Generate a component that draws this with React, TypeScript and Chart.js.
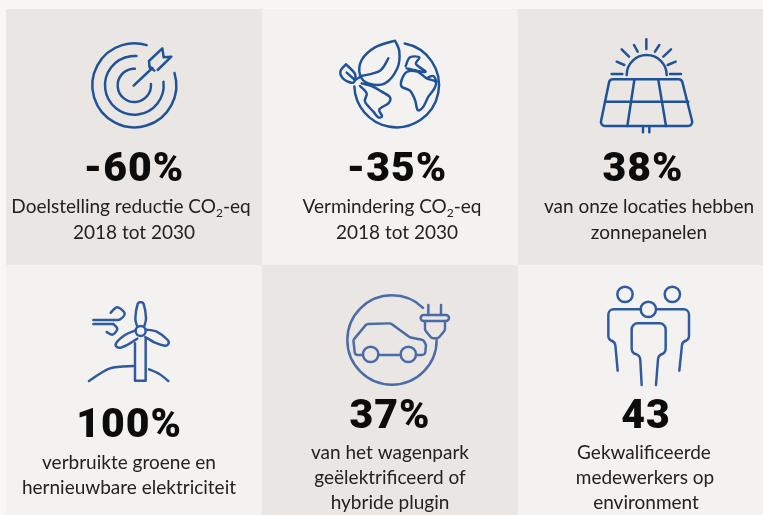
import React, { useEffect, useRef } from "react";
import { Chart, registerables } from "chart.js";

Chart.register(...registerables);

const columns = ["A", "B", "C"];
const topRowStats = ["-60%", "-35%", "38%"];
const bottomRowStats = ["100%", "37%", "43"];
const topRowText = [
  ["Doelstelling reductie CO₂-eq", "2018 tot 2030"],
  ["Vermindering CO₂-eq", "2018 tot 2030"],
  ["van onze locaties hebben", "zonnepanelen"],
];
const bottomRowText = [
  ["verbruikte groene en", "hernieuwbare elektriciteit"],
  ["van het wagenpark", "geëlektrificeerd of", "hybride plugin"],
  ["Gekwalificeerde", "medewerkers op", "environment"],
];
const tileShare = [1, 1, 1];

const DARK = "#e9e6e3";
const LIGHT = "#f3f2f1";
const PAGE = "#f8f7f5";
const INK = "#0c0c0c";
const BODY = "#222222";
const NUM_FONT = "900 41px Roboto";
const BODY_FONT = "19px Lato";
const SUB_FONT = "12px Lato";

type Ctx = CanvasRenderingContext2D;
type P = number[];

function poly(c: Ctx, pts: P[], close = false) {
  c.beginPath();
  pts.forEach((p, i) => (i ? c.lineTo(p[0], p[1]) : c.moveTo(p[0], p[1])));
  if (close) c.closePath();
  c.stroke();
}
// Open or closed curve through the sketched points.
function smooth(c: Ctx, pts: P[], close = false) {
  const n = pts.length;
  const at = (i: number) => (close ? pts[(i + n) % n] : pts[Math.max(0, Math.min(n - 1, i))]);
  c.beginPath();
  c.moveTo(pts[0][0], pts[0][1]);
  const segs = close ? n : n - 1;
  for (let i = 0; i < segs; i++) {
    const p0 = at(i - 1), p1 = at(i), p2 = at(i + 1), p3 = at(i + 2);
    c.bezierCurveTo(
      p1[0] + (p2[0] - p0[0]) / 6, p1[1] + (p2[1] - p0[1]) / 6,
      p2[0] - (p3[0] - p1[0]) / 6, p2[1] - (p3[1] - p1[1]) / 6,
      p2[0], p2[1]
    );
  }
  if (close) c.closePath();
  c.stroke();
}
// Polyline with rounded corners.
function rounded(c: Ctx, pts: P[], r: number, close = false) {
  c.beginPath();
  const n = pts.length;
  if (close) {
    c.moveTo((pts[n - 1][0] + pts[0][0]) / 2, (pts[n - 1][1] + pts[0][1]) / 2);
    for (let i = 0; i < n; i++) {
      const q = pts[(i + 1) % n];
      c.arcTo(pts[i][0], pts[i][1], q[0], q[1], r);
    }
    c.closePath();
  } else {
    c.moveTo(pts[0][0], pts[0][1]);
    for (let i = 1; i < n - 1; i++) c.arcTo(pts[i][0], pts[i][1], pts[i + 1][0], pts[i + 1][1], r);
    c.lineTo(pts[n - 1][0], pts[n - 1][1]);
  }
  c.stroke();
}
function arc(c: Ctx, x: number, y: number, r: number, a = 0, b = 360) {
  c.beginPath();
  c.arc(x, y, r, (a * Math.PI) / 180, (b * Math.PI) / 180);
  c.stroke();
}

// Icons are sketched in a 3x grid local to each tile.
function target(c: Ctx) {
  arc(c, 403, 256, 126, -17, 287);
  arc(c, 403, 256, 88, -7, 274);
  arc(c, 403, 256, 50, -5, 272);
  poly(c, [[401, 257], [457, 204]]);
  poly(c, [[449, 203], [447, 183], [487, 145], [491, 172], [514, 170], [473, 210]]);
  poly(c, [[449, 199], [463, 212]]);
}
function globe(c: Ctx) {
  arc(c, 410, 255, 127, -79, 178);
  smooth(c, [[405, 122], [345, 142], [305, 180], [300, 225], [325, 250], [375, 250], [412, 205], [418, 155], [405, 122]]);
  poly(c, [[285, 240], [305, 228]]);
  smooth(c, [[305, 228], [360, 212], [385, 175]]);
  smooth(c, [[258, 193], [241, 215], [252, 238], [280, 248], [285, 222], [258, 193]]);
  poly(c, [[260, 218], [285, 240]]);
  smooth(c, [[305, 250], [335, 258], [365, 275], [390, 292], [385, 310], [358, 328], [366, 348], [355, 352], [340, 335], [315, 305], [320, 280], [300, 258]]);
  smooth(c, [[425, 240], [440, 216], [472, 215], [500, 235], [527, 245], [523, 266], [505, 290], [490, 320], [473, 330], [465, 300], [450, 272], [425, 260]], true);
  smooth(c, [[437, 198], [450, 172], [478, 172], [468, 192], [497, 215], [470, 212], [440, 205]]);
  smooth(c, [[505, 232], [520, 228], [530, 245]]);
}
function solar(c: Ctx) {
  arc(c, 395, 225, 60, 180, 360);
  const rays: P[][] = [
    [[394, 118], [394, 147]], [[320, 148], [342, 170]], [[468, 148], [445, 170]],
    [[357, 135], [368, 155]], [[433, 135], [420, 155]], [[305, 185], [328, 195]],
    [[482, 185], [458, 195]], [[290, 222], [322, 222]], [[465, 222], [498, 222]],
  ];
  rays.forEach((r) => poly(c, r));
  rounded(c, [[284, 238], [500, 238], [535, 378], [255, 378]], 12, true);
  poly(c, [[270, 305], [520, 305]]);
  poly(c, [[358, 240], [337, 378]]);
  poly(c, [[430, 240], [453, 378]]);
  poly(c, [[384, 380], [384, 397]]);
  poly(c, [[403, 380], [403, 397]]);
}
function turbine(c: Ctx) {
  arc(c, 422, 213, 15);
  poly(c, [[405, 250], [405, 362], [437, 362], [437, 235]]);
  smooth(c, [[411, 198], [406, 175], [413, 132], [422, 127], [431, 132], [438, 175], [433, 198]]);
  smooth(c, [[437, 209], [470, 215], [503, 240], [505, 252], [495, 257], [465, 248], [436, 231]]);
  smooth(c, [[405, 212], [375, 225], [348, 250], [352, 262], [365, 262], [390, 250], [412, 236]]);
  smooth(c, [[267, 363], [330, 325], [400, 318]]);
  smooth(c, [[447, 328], [478, 342], [505, 363]]);
  smooth(c, [[332, 158], [352, 142], [374, 160], [360, 178], [340, 180]]);
  poly(c, [[280, 180], [340, 180]]);
  poly(c, [[280, 192], [340, 192]]);
  smooth(c, [[340, 192], [352, 207], [338, 224], [320, 216]]);
}
function car(c: Ctx) {
  arc(c, 396, 240, 134, 0, 314);
  rounded(c, [[308, 285], [285, 285], [280, 240], [320, 192], [392, 190], [450, 232], [490, 240], [498, 255], [495, 285], [468, 285]], 10);
  poly(c, [[355, 285], [422, 285]]);
  arc(c, 332, 283, 23);
  arc(c, 445, 283, 23);
  c.beginPath();
  c.roundRect(482, 165, 85, 18, 9);
  c.stroke();
  poly(c, [[505, 135], [505, 165]]);
  poly(c, [[543, 135], [543, 165]]);
  rounded(c, [[495, 183], [495, 210], [515, 235], [535, 235], [555, 210], [555, 183]], 10);
}
function people(c: Ctx) {
  arc(c, 330, 103, 23);
  arc(c, 472, 103, 23);
  arc(c, 400, 148, 23);
  rounded(c, [[378, 148], [280, 148], [280, 240], [300, 245], [308, 332]], 16);
  rounded(c, [[424, 148], [522, 148], [522, 240], [502, 245], [493, 332]], 16);
  rounded(c, [[380, 375], [375, 285], [350, 280], [350, 190], [452, 190], [452, 280], [430, 285], [423, 375]], 18);
}

// Per tile look: icon routine, colour, crop origin relative to the tile centre,
// and text offsets from the tile centre.
const tileLook = [
  { draw: target, ink: "#1f5296", o: [-134, -137], num: [0, 44], lines: [[-3, 76], [0, 102]] },
  { draw: globe, ink: "#1f5296", o: [-130, -137], num: [7, 44], lines: [[2, 76], [7, 102]] },
  { draw: solar, ink: "#1f5296", o: [-131, -137], num: [-3, 44], lines: [[3, 76], [3, 102]] },
  { draw: turbine, ink: "#2f5a9f", o: [-134, -133], num: [-5, 44], lines: [[-5, 76], [-5, 101]] },
  { draw: car, ink: "#4a6ba8", o: [-130, -133], num: [0, 35], lines: [[0, 66], [0, 91], [0, 116]] },
  { draw: people, ink: "#2f5a9f", o: [-131, -133], num: [0, 35], lines: [[-2, 66], [-1, 91], [0, 116]] },
];

function textRuns(c: Ctx, s: string, cx: number, y: number) {
  const parts = s.split("₂");
  c.font = BODY_FONT;
  let w = c.measureText(parts.join("")).width;
  if (parts.length > 1) {
    c.font = SUB_FONT;
    w += c.measureText("2").width;
    c.font = BODY_FONT;
  }
  let x = cx - w / 2;
  c.textAlign = "left";
  c.fillStyle = BODY;
  parts.forEach((p, i) => {
    if (i) {
      c.font = SUB_FONT;
      c.fillText("2", x, y + 4);
      x += c.measureText("2").width;
      c.font = BODY_FONT;
    }
    c.fillText(p, x, y);
    x += c.measureText(p).width;
  });
}

const tilesPlugin = {
  id: "tiles",
  afterDatasetsDraw(chart: any) {
    const c: Ctx = chart.ctx;
    const xs = chart.scales.x;
    const ys = chart.scales.y;
    const stats = [...topRowStats, ...bottomRowStats];
    const texts = [...topRowText, ...bottomRowText];
    stats.forEach((stat, i) => {
      const cx = xs.getPixelForValue(i % 3);
      const cy = ys.getPixelForValue(i < 3 ? 1.5 : 0.5);
      const look = tileLook[i];
      c.save();
      c.translate(cx + look.o[0], cy + look.o[1]);
      c.scale(1 / 3, 1 / 3);
      c.strokeStyle = look.ink;
      c.lineWidth = 7.4;
      c.lineCap = "round";
      c.lineJoin = "round";
      look.draw(c);
      c.restore();
      c.save();
      c.textBaseline = "alphabetic";
      c.textAlign = "center";
      c.fillStyle = INK;
      c.font = NUM_FONT;
      (c as any).letterSpacing = "1px";
      c.fillText(stat, cx + look.num[0], cy + look.num[1]);
      (c as any).letterSpacing = "0px";
      texts[i].forEach((line, j) => {
        textRuns(c, line, cx + look.lines[j][0], cy + look.lines[j][1]);
      });
      c.restore();
    });
  },
};

export default function App() {
  const ref = useRef<HTMLCanvasElement>(null);
  useEffect(() => {
    const chart = new Chart(ref.current!, {
      type: "bar",
      data: {
        labels: columns,
        datasets: [
          { data: tileShare, backgroundColor: [LIGHT, DARK, LIGHT], stack: "s" },
          { data: tileShare, backgroundColor: [DARK, LIGHT, DARK], stack: "s" },
        ],
      },
      options: {
        animation: false,
        responsive: false,
        layout: { padding: { left: 6, top: 9 } },
        datasets: { bar: { barPercentage: 1, categoryPercentage: 1, borderWidth: 0 } },
        plugins: { legend: { display: false }, tooltip: { enabled: false }, title: { display: false } },
        scales: {
          x: { display: false, stacked: true },
          y: { display: false, stacked: true, min: 0, max: 2 },
        },
      },
      plugins: [tilesPlugin],
    } as any);
    return () => chart.destroy();
  }, []);
  return (
    <div style={{ position: "fixed", left: 0, top: 0, width: 763, height: 515, overflow: "hidden", background: PAGE }}>
      <canvas ref={ref} width={774} height={521} style={{ display: "block" }} />
    </div>
  );
}
